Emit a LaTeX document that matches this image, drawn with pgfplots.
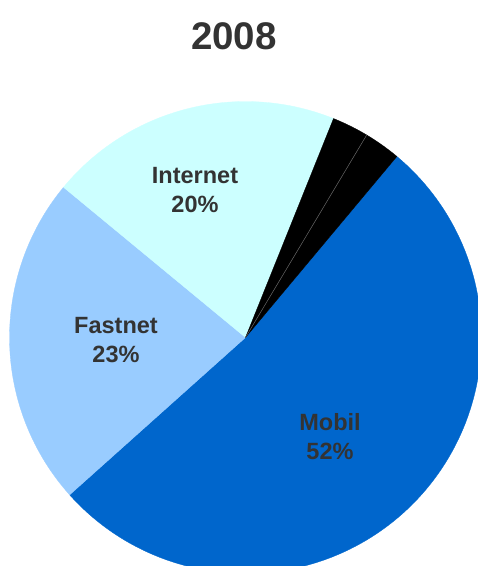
\documentclass[border=0pt]{standalone}
\usepackage{pgfplots}
\pgfplotsset{compat=1.18}
\usepackage{pgfplotstable}
\usepackage{fontspec}
\setmainfont{Liberation Sans}
\definecolor{mobil}{HTML}{0066CC}
\definecolor{fastnet}{HTML}{99CCFF}
\definecolor{internet}{HTML}{CCFFFF}
\definecolor{txt}{HTML}{333333}
\pgfplotstableread{
name     value
Mobil    52.3
Fastnet  22.6
Internet 20.1
Andet1   2.5
Andet2   2.5
}\piedata
\pgfplotstablegetelem{0}{value}\of\piedata \let\vA\pgfplotsretval
\pgfplotstablegetelem{1}{value}\of\piedata \let\vB\pgfplotsretval
\pgfplotstablegetelem{2}{value}\of\piedata \let\vC\pgfplotsretval
\pgfplotstablegetelem{3}{value}\of\piedata \let\vD\pgfplotsretval
\pgfplotstablegetelem{4}{value}\of\piedata \let\vE\pgfplotsretval
\pgfmathsetmacro{\aO}{50.1}
\pgfmathsetmacro{\aA}{\aO-3.6*\vA}
\pgfmathsetmacro{\aB}{\aA-3.6*\vB}
\pgfmathsetmacro{\aC}{\aB-3.6*\vC}
\pgfmathsetmacro{\aD}{\aC-3.6*\vD}
\pgfmathsetmacro{\aE}{\aD-3.6*\vE}
\def\cx{245.5}
\def\cy{228.5}
\def\R{236}
\begin{document}
\begin{tikzpicture}
\begin{axis}[
  at={(0,0)}, anchor=south west,
  width=478pt, height=566pt, scale only axis,
  xmin=0, xmax=478, ymin=0, ymax=566,
  hide axis, clip=true,
]
\addplot[fill=mobil, draw=mobil, line width=0.3pt, domain=\aA:\aO, samples=120, variable=\t]
  ({\cx+\R*cos(\t)},{\cy+\R*sin(\t)}) -- (axis cs:\cx,\cy) -- cycle;
\addplot[fill=fastnet, draw=fastnet, line width=0.3pt, domain=\aB:\aA, samples=60, variable=\t]
  ({\cx+\R*cos(\t)},{\cy+\R*sin(\t)}) -- (axis cs:\cx,\cy) -- cycle;
\addplot[fill=internet, draw=internet, line width=0.3pt, domain=\aC:\aB, samples=60, variable=\t]
  ({\cx+\R*cos(\t)},{\cy+\R*sin(\t)}) -- (axis cs:\cx,\cy) -- cycle;
\addplot[fill=black, draw=black, line width=0.3pt, domain=\aD:\aC, samples=20, variable=\t]
  ({\cx+\R*cos(\t)},{\cy+\R*sin(\t)}) -- (axis cs:\cx,\cy) -- cycle;
\addplot[fill=black, draw=black, line width=0.3pt, domain=\aE:\aD, samples=20, variable=\t]
  ({\cx+\R*cos(\t)},{\cy+\R*sin(\t)}) -- (axis cs:\cx,\cy) -- cycle;
\draw[black!60, line width=0.5pt] (axis cs:\cx,\cy) -- (axis cs:{\cx+\R*cos(\aD)},{\cy+\R*sin(\aD)});
\node[txt, font=\bfseries\fontsize{38.5}{46}\selectfont] at (axis cs:234,530) {2008};
\node[txt, align=center, font=\bfseries\fontsize{23.5}{29}\selectfont] at (axis cs:330,129.5) {Mobil\\52\%};
\node[txt, align=center, font=\bfseries\fontsize{23.5}{29}\selectfont] at (axis cs:116,226) {Fastnet\\23\%};
\node[txt, align=center, font=\bfseries\fontsize{23.5}{29}\selectfont] at (axis cs:195,376) {Internet\\20\%};
\end{axis}
\pgfresetboundingbox
\path (0,0) rectangle (478pt,566pt);
\end{tikzpicture}
\end{document}
